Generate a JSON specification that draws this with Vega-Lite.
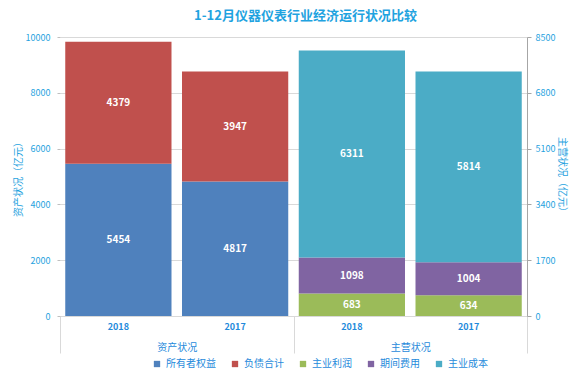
{
  "$schema": "https://vega.github.io/schema/vega-lite/v6.json",
  "width": 467,
  "height": 279,
  "autosize": "none",
  "padding": {"left": 60, "top": 37, "right": 52, "bottom": 64},
  "background": "white",
  "title": {"text": "1-12月仪器仪表行业经济运行状况比较", "fontSize": 13, "fontWeight": "bold", "color": "#1FA3E0", "offset": 10, "dx": 12, "anchor": "middle"},
  "config": {"font": "Noto Sans CJK SC", "view": {"stroke": null}},
  "datasets": {
    "assets": [
      {"cat": "A2018", "item": "所有者权益", "v": 5454, "o": 1},
      {"cat": "A2018", "item": "负债合计", "v": 4379, "o": 2},
      {"cat": "A2017", "item": "所有者权益", "v": 4817, "o": 1},
      {"cat": "A2017", "item": "负债合计", "v": 3947, "o": 2}
    ],
    "ops": [
      {"cat": "B2018", "item": "主业利润", "v": 683, "o": 1},
      {"cat": "B2018", "item": "期间费用", "v": 1098, "o": 2},
      {"cat": "B2018", "item": "主业成本", "v": 6311, "o": 3},
      {"cat": "B2017", "item": "主业利润", "v": 634, "o": 1},
      {"cat": "B2017", "item": "期间费用", "v": 1004, "o": 2},
      {"cat": "B2017", "item": "主业成本", "v": 5814, "o": 3}
    ],
    "groups": [{"g": "资产状况"}, {"g": "主营状况"}]
  },
  "layer": [
    {
      "data": {"name": "assets"},
      "mark": {"type": "bar"},
      "encoding": {
        "x": {"field": "cat", "type": "nominal", "scale": {"domain": ["A2018", "A2017", "B2018", "B2017"], "paddingInner": 0.09, "paddingOuter": 0.045},
          "axis": {"orient": "bottom", "title": null, "labelExpr": "substring(datum.value, 1)", "labelAngle": 0, "labelColor": "#1F8ADB", "labelFontSize": 9, "labelFontWeight": "bold", "ticks": false, "domain": false, "labelPadding": 6, "grid": false}},
        "y": {"field": "v", "type": "quantitative", "stack": "zero", "scale": {"domain": [0, 10000], "nice": false},
          "axis": {"orient": "left", "format": "d", "title": "资产状况（亿元）", "titleColor": "#1FA3E0", "titleFontSize": 10, "titleFontWeight": "normal", "titlePadding": 2, "labelColor": "#1FA3E0", "labelFontSize": 9, "values": [0, 2000, 4000, 6000, 8000, 10000], "tickSize": 3, "tickColor": "#bfbfbf", "labelPadding": 7, "domain": false, "gridColor": "#d9d9d9"}},
        "order": {"field": "o", "type": "quantitative"},
        "color": {"field": "item", "type": "nominal", "scale": {"domain": ["所有者权益", "负债合计", "主业利润", "期间费用", "主业成本"], "range": ["#4F81BD", "#C0504D", "#9BBB59", "#8064A2", "#4BACC6"]},
          "legend": {"orient": "none", "legendX": 92, "legendY": 322, "direction": "horizontal", "title": null, "symbolType": "square", "symbolSize": 40, "labelColor": "#1F8ADB", "labelFontSize": 10, "columnPadding": 14}}
      }
    },
    {
      "data": {"name": "assets"},
      "transform": [
        {"stack": "v", "groupby": ["cat"], "sort": [{"field": "o"}], "as": ["y0", "y1"]},
        {"calculate": "(datum.y0 + datum.y1) / 2", "as": "mid"}
      ],
      "mark": {"type": "text", "color": "white", "fontWeight": "bold", "fontSize": 10},
      "encoding": {
        "x": {"field": "cat", "type": "nominal", "scale": {"domain": ["A2018", "A2017", "B2018", "B2017"], "paddingInner": 0.09, "paddingOuter": 0.045}, "axis": null},
        "y": {"field": "mid", "type": "quantitative", "scale": {"domain": [0, 10000], "nice": false}, "axis": null},
        "text": {"field": "v", "type": "quantitative", "format": "d"}
      }
    },
    {
      "data": {"name": "ops"},
      "mark": {"type": "bar"},
      "encoding": {
        "x": {"field": "cat", "type": "nominal", "scale": {"domain": ["A2018", "A2017", "B2018", "B2017"], "paddingInner": 0.09, "paddingOuter": 0.045}, "axis": null},
        "y": {"field": "v", "type": "quantitative", "stack": "zero", "scale": {"domain": [0, 8500], "nice": false},
          "axis": {"orient": "right", "format": "d", "title": "主营状况（亿元）", "titleColor": "#1FA3E0", "titleFontSize": 10, "titleFontWeight": "normal", "titlePadding": 2, "labelColor": "#1FA3E0", "labelFontSize": 9, "values": [0, 1700, 3400, 5100, 6800, 8500], "tickSize": 4, "tickColor": "#a6a6a6", "labelPadding": 4, "domain": true, "domainColor": "#a6a6a6", "grid": false}},
        "order": {"field": "o", "type": "quantitative"},
        "color": {"field": "item", "type": "nominal", "scale": {"domain": ["所有者权益", "负债合计", "主业利润", "期间费用", "主业成本"], "range": ["#4F81BD", "#C0504D", "#9BBB59", "#8064A2", "#4BACC6"]}}
      }
    },
    {
      "data": {"name": "ops"},
      "transform": [
        {"stack": "v", "groupby": ["cat"], "sort": [{"field": "o"}], "as": ["y0", "y1"]},
        {"calculate": "(datum.y0 + datum.y1) / 2", "as": "mid"}
      ],
      "mark": {"type": "text", "color": "white", "fontWeight": "bold", "fontSize": 10},
      "encoding": {
        "x": {"field": "cat", "type": "nominal", "scale": {"domain": ["A2018", "A2017", "B2018", "B2017"], "paddingInner": 0.09, "paddingOuter": 0.045}, "axis": null},
        "y": {"field": "mid", "type": "quantitative", "scale": {"domain": [0, 8500], "nice": false}, "axis": null},
        "text": {"field": "v", "type": "quantitative", "format": "d"}
      }
    },
    {
      "data": {"name": "groups"},
      "mark": {"type": "text", "text": ""},
      "encoding": {
        "x": {"field": "g", "type": "nominal", "sort": null, "scale": {"domain": ["资产状况", "主营状况"], "paddingInner": 0, "paddingOuter": 0},
          "axis": {"orient": "bottom", "title": null, "labelAngle": 0, "tickBand": "extent", "tickSize": 37, "tickColor": "#d9d9d9", "domain": false, "labelPadding": -11, "labelColor": "#1F8ADB", "labelFontSize": 10, "grid": false}}
      }
    }
  ],
  "resolve": {"scale": {"x": "independent", "y": "independent"}, "axis": {"x": "independent", "y": "independent"}}
}
